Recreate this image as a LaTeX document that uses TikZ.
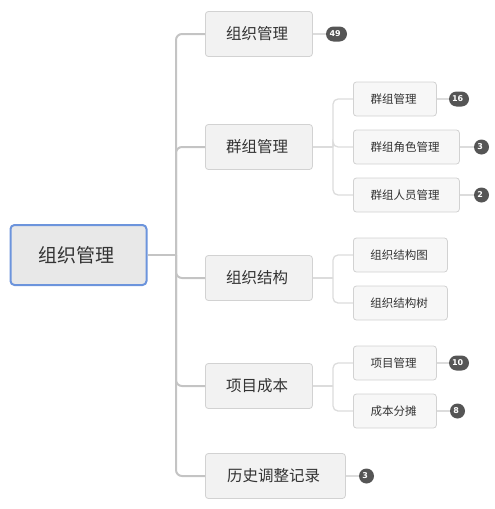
\documentclass[tikz,border=0pt]{standalone}
\usepackage{fontspec}
\setmainfont{Noto Sans CJK SC}
\newfontfamily\numfont{DejaVu Sans}[BoldFont={DejaVu Sans Bold}]
\usetikzlibrary{positioning}
\definecolor{txt}{HTML}{333333}
\definecolor{rootfill}{HTML}{E8E8E8}
\definecolor{rootline}{HTML}{6C94DC}
\definecolor{boxfill}{HTML}{F2F2F2}
\definecolor{subfill}{HTML}{F7F7F7}
\definecolor{boxline}{HTML}{D2D2D2}
\definecolor{trunkline}{HTML}{C4C4C4}
\definecolor{subline}{HTML}{DCDCDC}
\definecolor{badgefill}{HTML}{555555}

\begin{document}
\begin{tikzpicture}[x=1pt, y=-1pt,
  every node/.style = { align = center, text = txt },
  rootbox/.style = { draw = rootline, line width = 2pt, fill = rootfill, rounded corners = 4pt,
    minimum width = 136pt, minimum height = 60pt, font = \fontsize{19}{19}\selectfont },
  topic/.style = { draw = boxline, line width = .8pt, fill = boxfill, rounded corners = 3pt,
    anchor = west, minimum width = 107pt, minimum height = 45pt, font = \fontsize{15.5}{15.5}\selectfont },
  subtopic/.style = { draw = boxline, line width = .8pt, fill = subfill, rounded corners = 3pt,
    anchor = west, minimum height = 34pt, font = \fontsize{11.5}{11.5}\selectfont },
  badge/.style = { fill = badgefill, text = white, rounded corners = 7.5pt, inner sep = 0pt,
    minimum height = 15pt, minimum width = 15pt, font = \numfont\bfseries\fontsize{8}{8}\selectfont },
  trunk/.style = { draw = trunkline, line width = 2pt, rounded corners = 6pt },
  branch/.style = { draw = subline, line width = 1.3pt, rounded corners = 5pt }
]
  \useasboundingbox (0,0) rectangle (495,509);

  \node[rootbox] (root) at (78.5,255) { 组织管理 };

  \node[topic] (org)  at (205,34)  { 组织管理 };
  \node[topic] (grp)  at (205,147) { 群组管理 };
  \node[topic] (str)  at (205,278) { 组织结构 };
  \node[topic] (cost) at (205,386) { 项目成本 };
  \node[topic, minimum width = 140pt] (hist) at (205,476) { 历史调整记录 };

  \node[subtopic, minimum width = 83pt]  (grp1)  at (353,99)  { 群组管理 };
  \node[subtopic, minimum width = 106pt] (grp2)  at (353,147) { 群组角色管理 };
  \node[subtopic, minimum width = 106pt] (grp3)  at (353,195) { 群组人员管理 };
  \node[subtopic, minimum width = 94pt]  (str1)  at (353,255) { 组织结构图 };
  \node[subtopic, minimum width = 94pt]  (str2)  at (353,303) { 组织结构树 };
  \node[subtopic, minimum width = 83pt]  (cost1) at (353,363) { 项目管理 };
  \node[subtopic, minimum width = 83pt]  (cost2) at (353,411) { 成本分摊 };

  % counters
  \node[badge, minimum width = 21pt, right = 13pt of org]  (norg)   { 49 };
  \node[badge, minimum width = 20pt, right = 12pt of grp1] (ngrp1)  { 16 };
  \node[badge, right = 14pt of grp2]                       (ngrp2)  { 3 };
  \node[badge, right = 14pt of grp3]                       (ngrp3)  { 2 };
  \node[badge, minimum width = 20pt, right = 12pt of cost1] (ncost1) { 10 };
  \node[badge, right = 13pt of cost2]                      (ncost2) { 8 };
  \node[badge, right = 13pt of hist]                       (nhist)  { 3 };

  \coordinate (fork) at (176,255);
  \coordinate (fgrp) at (333,147);
  \coordinate (fstr) at (333,278);
  \coordinate (fcost) at (333,386);

  % connectors
  \draw[trunk] (root.east) -- (fork);
  \foreach \t in {org, grp, str, cost, hist}
    \draw[trunk] (fork) |- (\t.west);
  \draw[branch] (grp.east) -- (fgrp);
  \foreach \s in {grp1, grp2, grp3}
    \draw[branch] (fgrp) |- (\s.west);
  \draw[branch] (str.east) -- (fstr);
  \foreach \s in {str1, str2}
    \draw[branch] (fstr) |- (\s.west);
  \draw[branch] (cost.east) -- (fcost);
  \foreach \s in {cost1, cost2}
    \draw[branch] (fcost) |- (\s.west);

  \foreach \a/\b in {org/norg, grp1/ngrp1, grp2/ngrp2, grp3/ngrp3, cost1/ncost1, cost2/ncost2, hist/nhist}
    \draw[branch] (\a.east) -- (\b.west);
\end{tikzpicture}
\end{document}
